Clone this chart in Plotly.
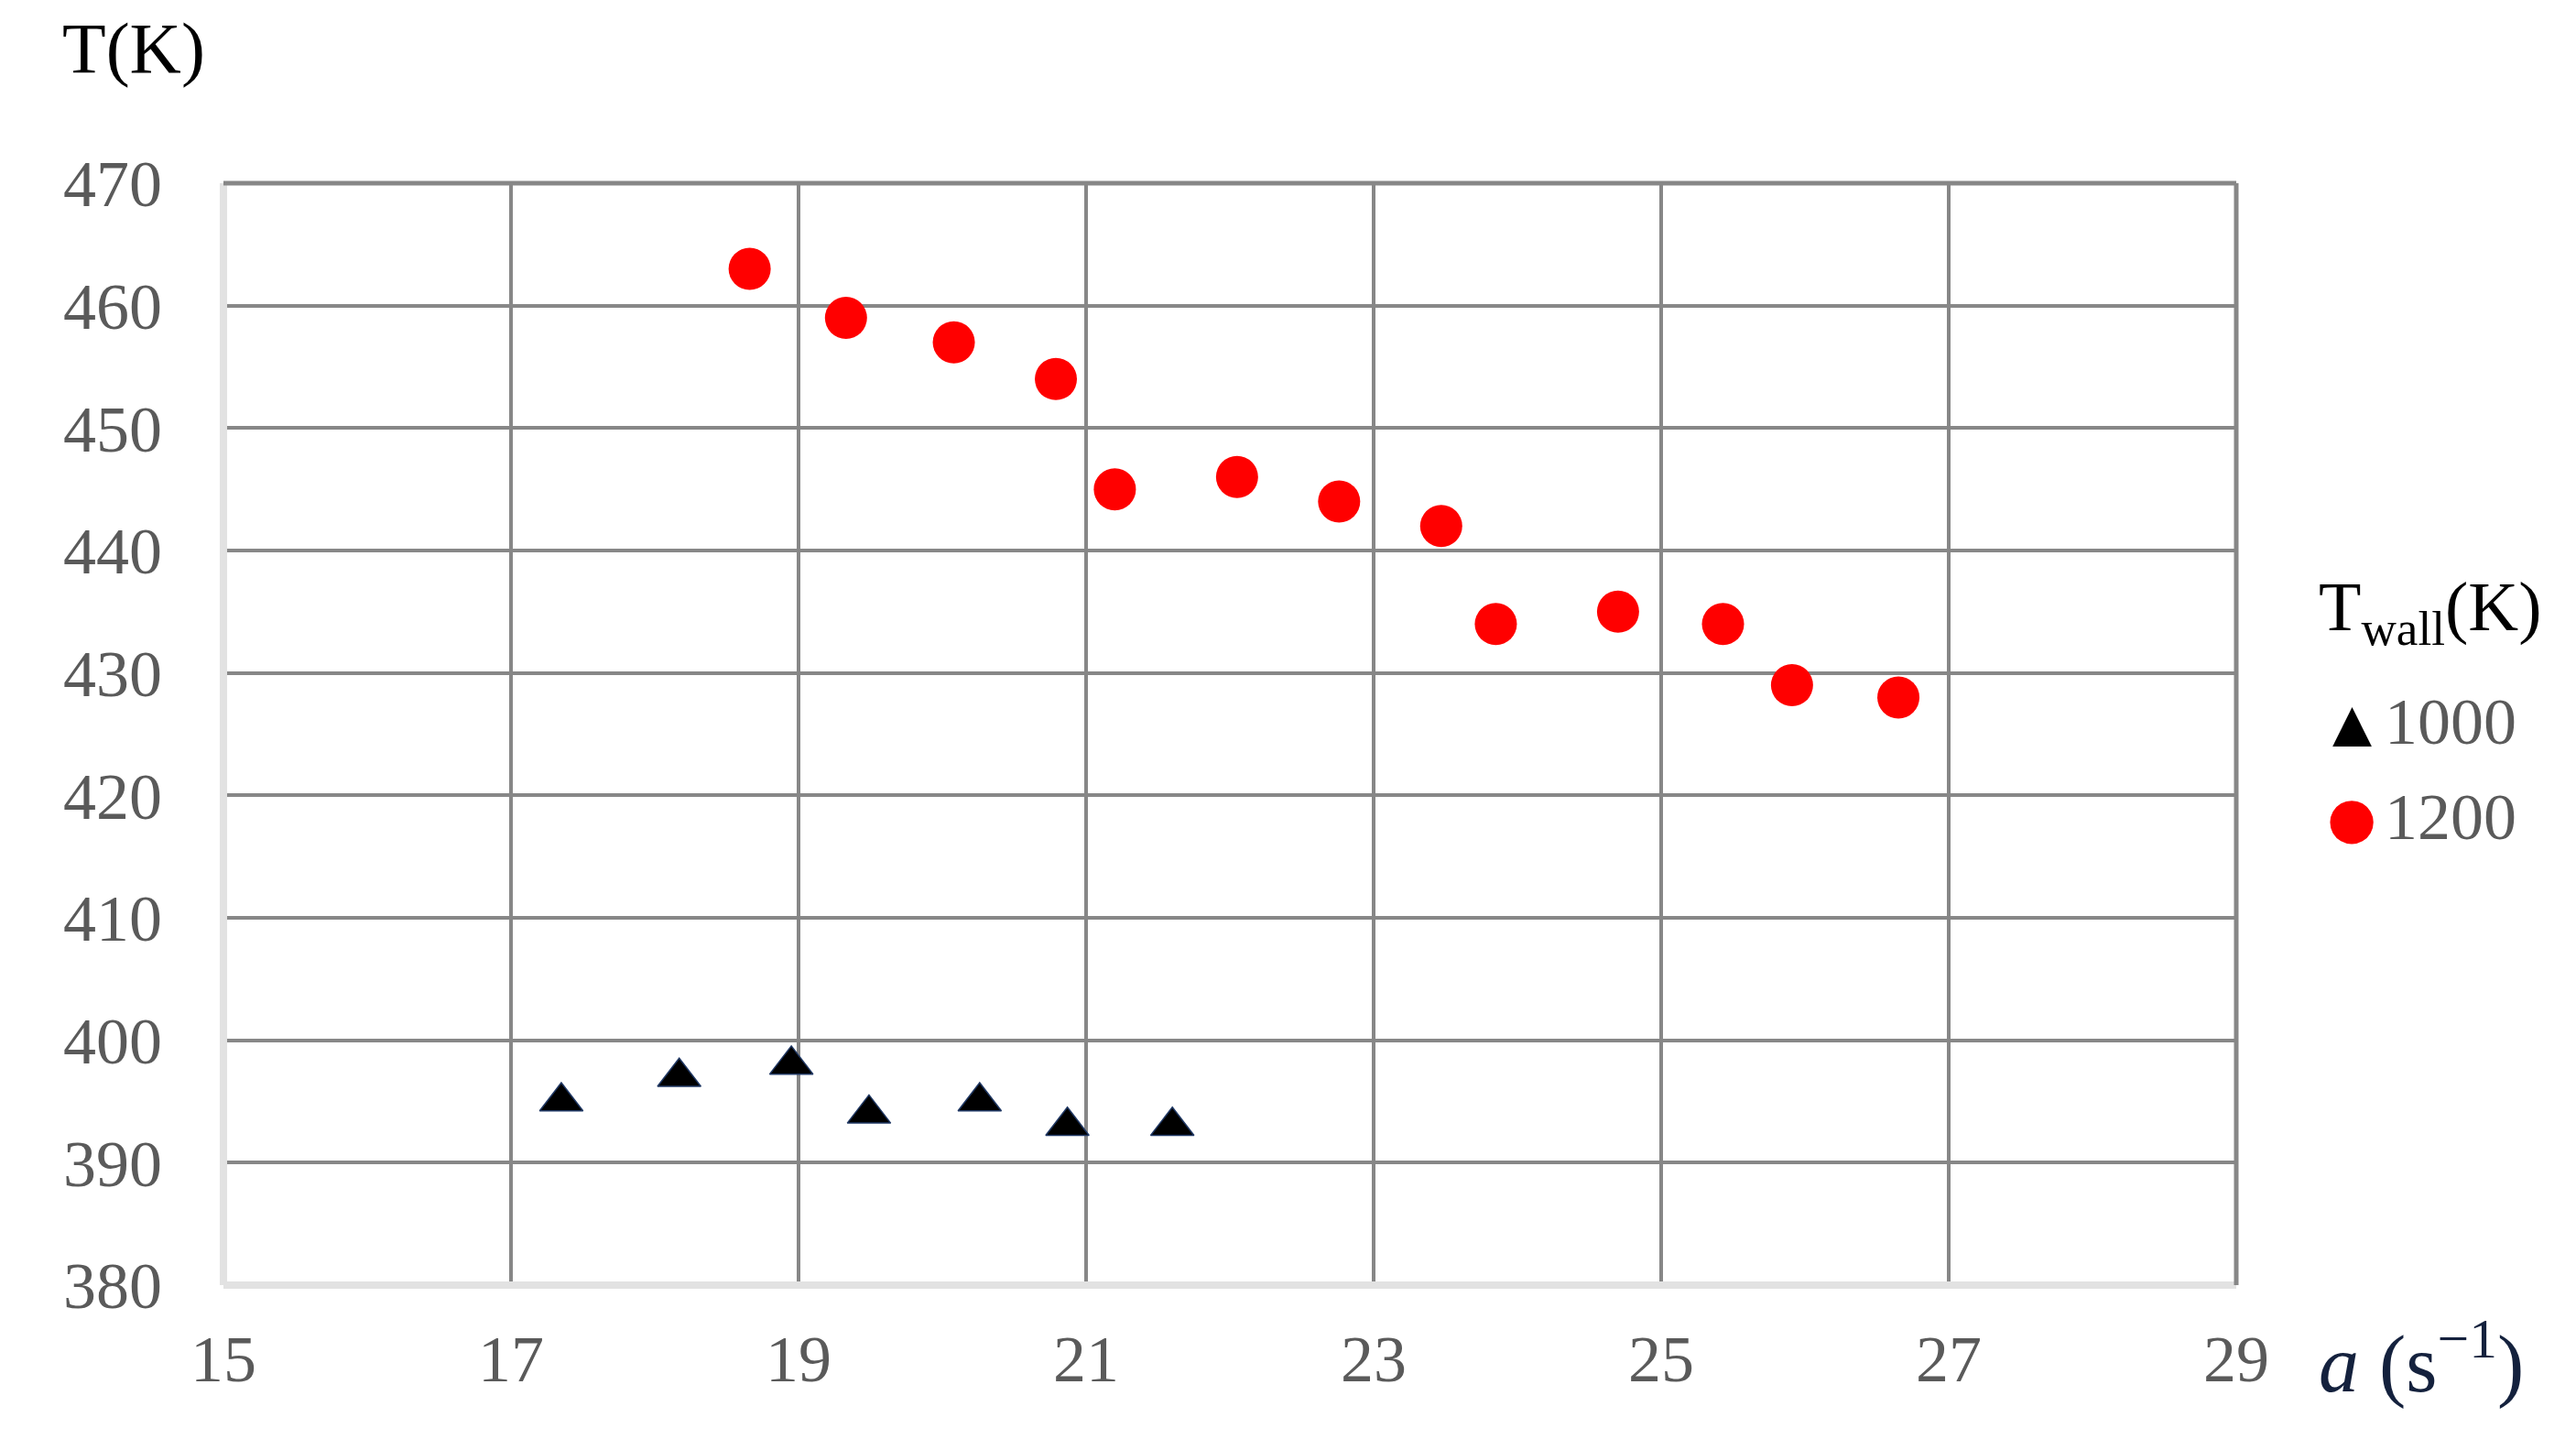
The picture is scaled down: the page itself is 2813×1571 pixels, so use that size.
import plotly.graph_objects as go

# strain rate a (1/s) and temperature T (K)
a_1000 = [17.35, 18.17, 18.95, 19.49, 20.26, 20.87, 21.60]
t_1000 = [395, 397, 398, 394, 395, 393, 393]

a_1200 = [18.66, 19.33, 20.08, 20.79, 21.20, 22.05, 22.76, 23.47, 23.85, 24.70, 25.43, 25.91, 26.65]
t_1200 = [463, 459, 457, 454, 445, 446, 444, 442, 434, 435, 434, 429, 428]

series_names = ["1000", "1200"]
x_ticks = [15, 17, 19, 21, 23, 25, 27, 29]
y_ticks = [380, 390, 400, 410, 420, 430, 440, 450, 460, 470]

W, H = 2813, 1571
L, R, T, B = 236, 379, 192, 176
GRID = "#878787"
LIGHT = "#e2e2e2"
TICK_FONT = dict(family="Liberation Serif", size=72, color="#5a5a5a")


def px_to_paper(px, py):
    # convert a pixel position on the page into paper coordinates
    return (px - L) / (W - L - R), (H - B - py) / (H - T - B)


fig = go.Figure()

fig.add_trace(go.Scatter(
    x=a_1000, y=t_1000, mode="markers", name=series_names[0],
    marker=dict(symbol="triangle-up", size=41, color="black",
                line=dict(color="#203864", width=1.5)),
))
fig.add_trace(go.Scatter(
    x=a_1200, y=t_1200, mode="markers", name=series_names[1],
    marker=dict(symbol="circle", size=46, color="#ff0000", line=dict(width=0)),
))

fig.update_layout(
    width=W, height=H,
    margin=dict(l=L, r=R, t=T, b=B),
    paper_bgcolor="white", plot_bgcolor="white",
    showlegend=False,
    xaxis=dict(range=[15, 29], tickvals=x_ticks, showgrid=True, gridcolor=GRID,
               gridwidth=4, zeroline=False, showline=False, ticks="",
               ticklabelstandoff=32, tickfont=TICK_FONT),
    yaxis=dict(range=[380, 470], tickvals=y_ticks, showgrid=True, gridcolor=GRID,
               gridwidth=4, zeroline=False, showline=False, ticks="",
               ticklabelstandoff=66, tickfont=TICK_FONT),
)

# frame: light left/bottom, dark top/right
frame = [
    (0, 0, 0, 1, LIGHT, 8), (0, 0, 1, 0, LIGHT, 8),
    (0, 1, 1, 1, GRID, 5), (1, 0, 1, 1, GRID, 5),
]
for x0, y0, x1, y1, c, w in frame:
    fig.add_shape(type="line", xref="paper", yref="paper", x0=x0, y0=y0, x1=x1, y1=y1,
                  line=dict(color=c, width=w), layer="above")

ax, ay = px_to_paper(58, 45)
fig.add_annotation(text="T(K)", xref="paper", yref="paper", x=ax, y=ay,
                   xanchor="left", yanchor="middle", showarrow=False,
                   font=dict(family="Liberation Serif", size=78, color="black"))

ax, ay = px_to_paper(2522, 1474)
fig.add_annotation(text="<i>a</i> (s<sup>−1</sup>)", xref="paper", yref="paper", x=ax, y=ay,
                   xanchor="left", yanchor="middle", showarrow=False,
                   font=dict(family="Liberation Serif", size=88, color="#14213d"))

# legend drawn as text so its keys match the marker size in the picture
ax, ay = px_to_paper(2522, 660)
fig.add_annotation(text="T<sub>wall</sub>(K)", xref="paper", yref="paper", x=ax, y=ay,
                   xanchor="left", yanchor="middle", showarrow=False,
                   font=dict(family="Liberation Serif", size=76, color="black"))

keys = [("▲", "black", 56, 780), ("●", "#ff0000", 62, 884)]
for name, (glyph, color, size, py) in zip(series_names, keys):
    kx, ky = px_to_paper(2560, py)
    fig.add_annotation(text=glyph, xref="paper", yref="paper", x=kx, y=ky,
                       xanchor="center", yanchor="middle", showarrow=False,
                       font=dict(family="DejaVu Sans", size=size, color=color))
    tx, ty = px_to_paper(2594, py)
    fig.add_annotation(text=name, xref="paper", yref="paper", x=tx, y=ty,
                       xanchor="left", yanchor="middle", showarrow=False,
                       font=TICK_FONT)

fig.write_html("out.html")
